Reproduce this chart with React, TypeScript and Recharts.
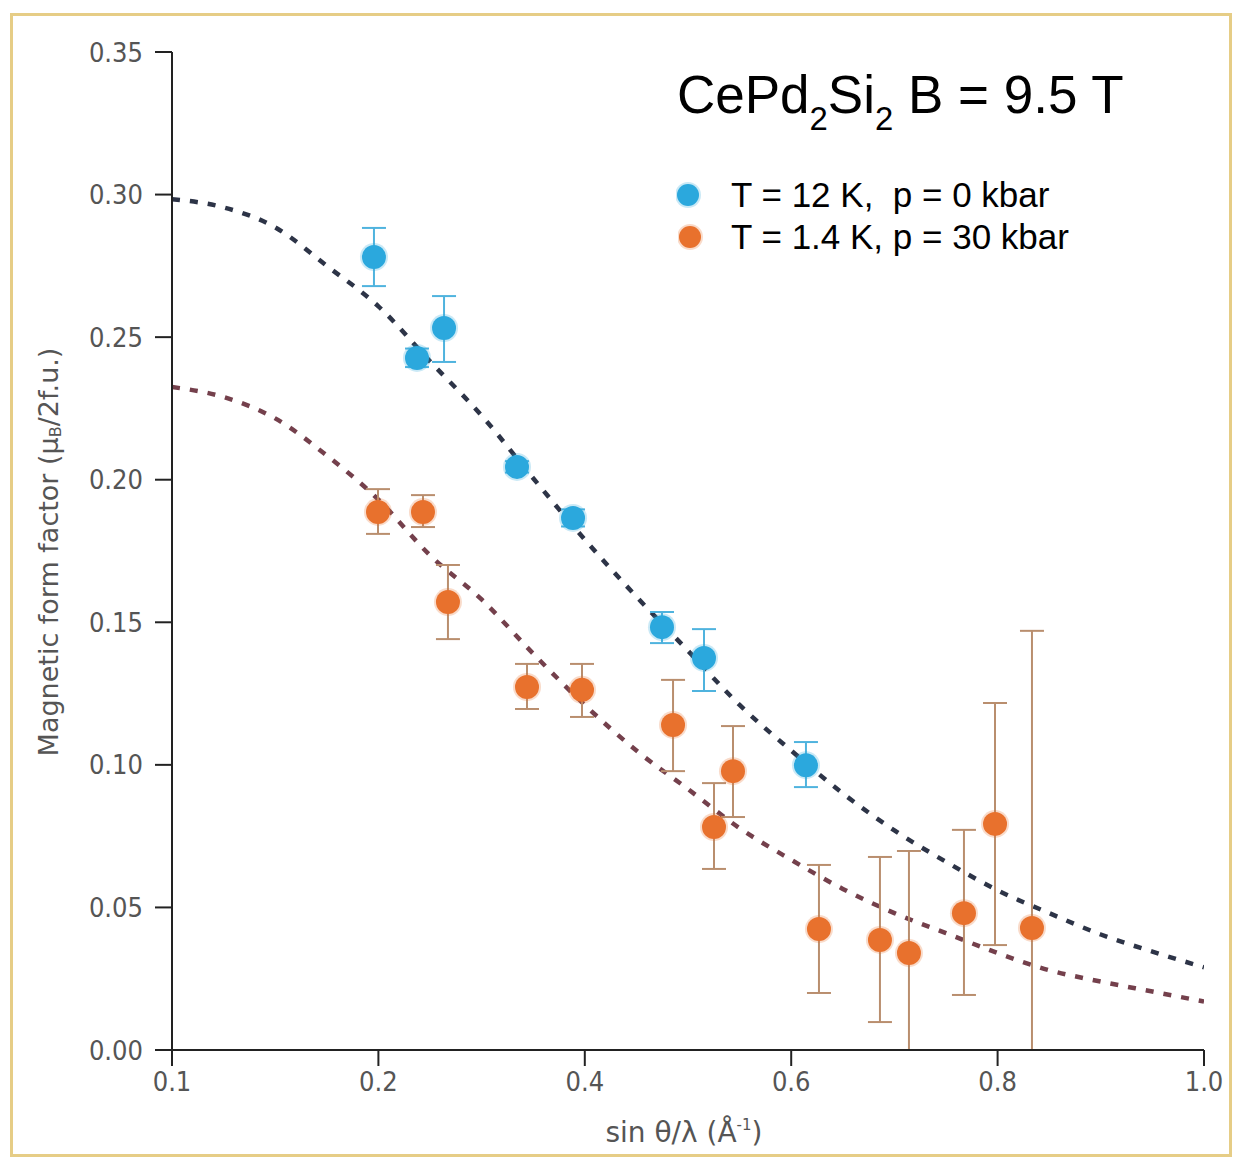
import React from "react";
import {
  ComposedChart,
  Line,
  Scatter,
  ErrorBar,
  XAxis,
  YAxis,
} from "recharts";

// fitted form-factor curves
const fitX = [
  0, 0.05, 0.1, 0.15, 0.2, 0.25, 0.3, 0.35, 0.4, 0.45, 0.5, 0.55, 0.6, 0.65,
  0.7, 0.75, 0.8, 0.85, 0.9, 0.95, 1.0,
];
const ambientFit = [
  0.2984, 0.2955, 0.2885, 0.275, 0.2608, 0.2415, 0.2225, 0.2005, 0.179, 0.159,
  0.14, 0.121, 0.105, 0.09, 0.077, 0.066, 0.056, 0.048, 0.0405, 0.0345, 0.029,
];
const pressureFit = [
  0.2325, 0.229, 0.2215, 0.2085, 0.193, 0.1735, 0.158, 0.139, 0.121, 0.105,
  0.0915, 0.0778, 0.0667, 0.0565, 0.048, 0.041, 0.034, 0.028, 0.024, 0.0205,
  0.017,
];

// T = 12 K, p = 0 kbar
const ambientX = [0.1957, 0.2374, 0.2636, 0.3343, 0.3886, 0.4748, 0.5155, 0.6143];
const ambientY = [0.2781, 0.2427, 0.2532, 0.2045, 0.1866, 0.1483, 0.1375, 0.0999];
const ambientLow = [0.2679, 0.2395, 0.2413, 0.2025, 0.1836, 0.1427, 0.1259, 0.0922];
const ambientHigh = [0.2883, 0.246, 0.2644, 0.2065, 0.1896, 0.1536, 0.1476, 0.108];

// T = 1.4 K, p = 30 kbar
const pressureX = [
  0.1996, 0.2432, 0.2674, 0.344, 0.3973, 0.4855, 0.5436, 0.5252, 0.6269, 0.686,
  0.7141, 0.7674, 0.7975, 0.8333,
];
const pressureY = [
  0.1887, 0.1887, 0.1571, 0.1273, 0.1263, 0.114, 0.0978, 0.0782, 0.0424, 0.0386,
  0.034, 0.048, 0.0793, 0.0428,
];
const pressureLow = [
  0.181, 0.1834, 0.1441, 0.1196, 0.1168, 0.0978, 0.0817, 0.0635, 0.02, 0.0098, 0,
  0.0193, 0.0368, 0,
];
const pressureHigh = [
  0.1967, 0.1946, 0.1701, 0.1354, 0.1354, 0.1298, 0.1136, 0.0936, 0.0649,
  0.0677, 0.0698, 0.0772, 0.1217, 0.147,
];

const xTicks = [0, 0.2, 0.4, 0.6, 0.8, 1.0];
const xTickLabels = ["0.1", "0.2", "0.4", "0.6", "0.8", "1.0"];
const yTicks = [0, 0.05, 0.1, 0.15, 0.2, 0.25, 0.3, 0.35];

const legendLabels = ["T = 12 K,  p = 0 kbar", "T = 1.4 K, p = 30 kbar"];

const BLUE = "#2ba8dd";
const ORANGE = "#e8712d";
const BLUE_BAR = "#4fb3de";
const ORANGE_BAR = "#b98e6e";
const TICK_FONT = "'DejaVu Sans Condensed', 'Liberation Sans Narrow', sans-serif";
const LABEL_FONT = "'DejaVu Sans', sans-serif";

const toPoints = (xs: number[], ys: number[], lo: number[], hi: number[]) =>
  xs.map((x, i) => ({ x, y: ys[i], err: [ys[i] - lo[i], hi[i] - ys[i]] }));

const ambientData = toPoints(ambientX, ambientY, ambientLow, ambientHigh);
const pressureData = toPoints(pressureX, pressureY, pressureLow, pressureHigh);
const ambientCurve = fitX.map((x, i) => ({ x, y: ambientFit[i] }));
const pressureCurve = fitX.map((x, i) => ({ x, y: pressureFit[i] }));

const dot = (color: string) => (props: any) => (
  <g>
    <circle cx={props.cx} cy={props.cy} r={14} fill={color} opacity={0.25} />
    <circle cx={props.cx} cy={props.cy} r={12} fill={color} />
  </g>
);

const YLabel = () => (
  <text
    x={50}
    y={552}
    transform="rotate(-90 50 552)"
    textAnchor="middle"
    dominantBaseline="middle"
    fill="#555"
    fontSize={27}
    fontFamily={LABEL_FONT}
  >
    Magnetic form factor (μ
    <tspan fontSize={16} dy={6}>B</tspan>
    <tspan dy={-6}>/2f.u.)</tspan>
  </text>
);

const XLabel = () => (
  <text
    x={684}
    y={1142}
    textAnchor="middle"
    fill="#555"
    fontSize={28}
    fontFamily={LABEL_FONT}
  >
    sin θ/λ (Å
    <tspan fontSize={15} dy={-12}>-1</tspan>
    <tspan dy={12}>)</tspan>
  </text>
);

const LegendBox = () => (
  <div
    style={{
      position: "absolute",
      left: 672,
      top: 174,
      fontFamily: "'Liberation Sans', Arial, sans-serif",
    }}
  >
    {legendLabels.map((label, i) => (
      <div
        key={label}
        style={{
          display: "flex",
          alignItems: "center",
          height: 42,
          fontSize: 35,
          lineHeight: "42px",
          color: "#000",
          whiteSpace: "pre",
        }}
      >
        <svg
          width={40}
          height={42}
          style={{ marginLeft: i === 0 ? 4 : 6, marginRight: i === 0 ? 15 : 13 }}
        >
          <circle cx={12} cy={21} r={13} fill={i === 0 ? BLUE : ORANGE} opacity={0.25} />
          <circle cx={12} cy={21} r={11} fill={i === 0 ? BLUE : ORANGE} />
        </svg>
        {label}
      </div>
    ))}
  </div>
);

export default function App() {
  return (
    <div
      style={{
        position: "absolute",
        left: 0,
        top: 0,
        width: 1236,
        height: 1161,
        background: "#fff",
        overflow: "hidden",
      }}
    >
      <div
        style={{
          position: "absolute",
          left: 10,
          top: 13,
          width: 1222,
          height: 1144,
          border: "3px solid #e6cd86",
          boxSizing: "border-box",
        }}
      />
      <ComposedChart
        width={1236}
        height={1161}
        margin={{ top: 52, right: 32, bottom: 0, left: 0 }}
        style={{ position: "absolute", left: 0, top: 0 }}
      >
        <XAxis
          dataKey="x"
          type="number"
          domain={[0, 1]}
          ticks={xTicks}
          tickFormatter={(v: number) => xTickLabels[xTicks.indexOf(v)] ?? String(v)}
          height={111}
          axisLine={{ stroke: "#222", strokeWidth: 2 }}
          tickLine={{ stroke: "#222", strokeWidth: 2 }}
          tickSize={16}
          tickMargin={6}
          tick={{ fontSize: 27, fill: "#555", fontFamily: TICK_FONT }}
          allowDataOverflow
        />
        <YAxis
          dataKey="y"
          type="number"
          domain={[0, 0.35]}
          ticks={yTicks}
          tickFormatter={(v: number) => v.toFixed(2)}
          width={172}
          axisLine={{ stroke: "#222", strokeWidth: 2 }}
          tickLine={{ stroke: "#222", strokeWidth: 2 }}
          tickSize={17}
          tickMargin={12}
          tick={{ fontSize: 27, fill: "#555", fontFamily: TICK_FONT }}
          allowDataOverflow
        />
        <Line
          data={ambientCurve}
          dataKey="y"
          type="monotone"
          stroke="#2d3447"
          strokeWidth={4.5}
          strokeDasharray="8 10"
          dot={false}
          activeDot={false}
          isAnimationActive={false}
        />
        <Line
          data={pressureCurve}
          dataKey="y"
          type="monotone"
          stroke="#74404c"
          strokeWidth={4.5}
          strokeDasharray="8 10"
          dot={false}
          activeDot={false}
          isAnimationActive={false}
        />
        <Scatter data={ambientData} dataKey="y" shape={dot(BLUE)} isAnimationActive={false}>
          <ErrorBar dataKey="err" direction="y" width={12} stroke={BLUE_BAR} strokeWidth={2} />
        </Scatter>
        <Scatter data={pressureData} dataKey="y" shape={dot(ORANGE)} isAnimationActive={false}>
          <ErrorBar dataKey="err" direction="y" width={12} stroke={ORANGE_BAR} strokeWidth={2} />
        </Scatter>
      </ComposedChart>
      <svg
        width={1236}
        height={1161}
        style={{ position: "absolute", left: 0, top: 0, pointerEvents: "none" }}
      >
        <YLabel />
        <XLabel />
      </svg>
      <div
        style={{
          position: "absolute",
          left: 677,
          top: 65,
          fontFamily: "'Liberation Sans', Arial, sans-serif",
          fontSize: 53,
          lineHeight: "60px",
          color: "#000",
          whiteSpace: "pre",
        }}
      >
        CePd
        <span style={{ fontSize: "0.62em", position: "relative", top: 17 }}>2</span>
        Si
        <span style={{ fontSize: "0.62em", position: "relative", top: 17 }}>2</span>
        {" B = 9.5 T"}
      </div>
      <LegendBox />
    </div>
  );
}
